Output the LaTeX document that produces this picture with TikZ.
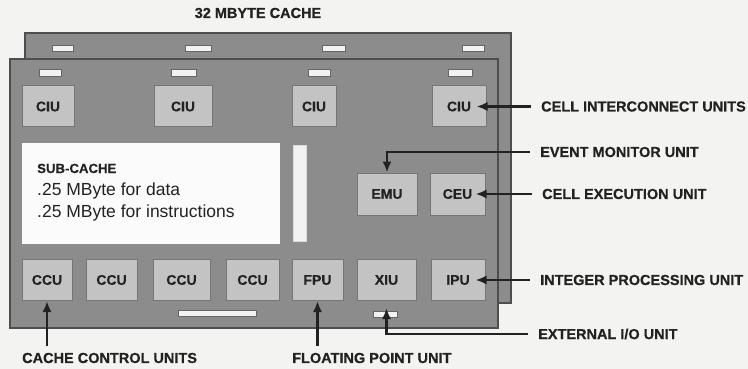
\documentclass[tikz,border=0pt]{standalone}
\usepackage{fontspec}
\setmainfont{Liberation Sans}
\newfontfamily\heavyfont{Liberation Sans}[BoldFeatures={FakeBold=0.5}]
\usetikzlibrary{arrows.meta}
\definecolor{bgpaper}{HTML}{F3F3F1}
\definecolor{boardgray}{HTML}{8C8C8C}
\definecolor{boardline}{HTML}{4E4E4E}
\definecolor{unitgray}{HTML}{C3C3C3}
\definecolor{unitline}{HTML}{767676}
\definecolor{slotwhite}{HTML}{F2F2F2}
\definecolor{slotline}{HTML}{666666}
\definecolor{ink}{HTML}{222222}

\begin{document}
\begin{tikzpicture}[x=1pt, y=-1pt,
    board/.style={draw=boardline, line width=2.5pt, fill=boardgray},
    unit/.style={draw=unitline, line width=1pt, fill=unitgray, minimum height=41pt,
      inner sep=0pt, text=ink, font=\fontsize{14}{16}\selectfont\heavyfont\bfseries},
    slot/.style={draw=slotline, line width=0.8pt, fill=slotwhite},
    lbl/.style={anchor=west, inner sep=0pt, text=ink, font=\fontsize{14.5}{17}\selectfont\heavyfont\bfseries},
    arr/.style={draw=ink, line width=2.2pt, -{Latex[length=11pt,width=9pt]}}]
  \fill[bgpaper] (0,0) rectangle (748,369);
  \useasboundingbox (0,0) rectangle (748,369);

  % the two boards
  \draw[board] (25,33) rectangle (511,303);
  \foreach \a/\b in {52/73, 185/211, 322/345, 462/484}
    \draw[slot] (\a,45) rectangle (\b,51);
  \draw[board] (10,59) rectangle (498,328);
  \foreach \a/\b in {39/61, 171/196, 308/330, 448/472}
    \draw[slot] (\a,69) rectangle (\b,76);

  % sub-cache and slots
  \fill[white!97!gray] (22,143) rectangle (280,244);
  \draw[slot, draw=slotwhite!80!gray] (293,145) rectangle (306,241);
  \draw[slot] (178,310) rectangle (256,316);
  \draw[slot] (373,311) rectangle (397,317);
  \node[anchor=base west, inner sep=0pt, text=ink, font=\fontsize{13.2}{15}\selectfont\heavyfont\bfseries] (sub1) at (37,173) {SUB-CACHE};
  \node[anchor=base west, inner sep=0pt, text=ink, font=\fontsize{17.5}{20}\selectfont] (sub2) at (37,195) {.25 MByte for data};
  \node[anchor=base west, inner sep=0pt, text=ink, font=\fontsize{17.5}{20}\selectfont] (sub3) at (37,217) {.25 MByte for instructions};

  % units
  \foreach \n/\cx/\w in {ciu1/48/52, ciu2/183/58, ciu3/314/44, ciu4/459/54}
    \node[unit, minimum width=\w pt] (\n) at (\cx,106.5) {CIU};
  \node[unit, minimum width=60pt, minimum height=42pt] (emu) at (387,194) {EMU};
  \node[unit, minimum width=55pt, minimum height=42pt] (ceu) at (457.5,194) {CEU};
  \foreach \n/\cx/\w in {ccu1/47/50, ccu2/111.5/51, ccu3/181.5/57, ccu4/252.5/53}
    \node[unit, minimum width=\w pt] (\n) at (\cx,280) {CCU};
  \node[unit, minimum width=51pt] (fpu) at (317.5,280) {FPU};
  \node[unit, minimum width=59pt] (xiu) at (386.5,280) {XIU};
  \node[unit, minimum width=54pt] (ipu) at (458,280) {IPU};

  % labels
  \node[lbl, anchor=center] (title) at (258,13) {32 MBYTE CACHE};
  \node[lbl] (lciu) at (541,106.5) {CELL INTERCONNECT UNITS};
  \node[lbl] (lemu) at (540,152) {EVENT MONITOR UNIT};
  \node[lbl] (lceu) at (542,194) {CELL EXECUTION UNIT};
  \node[lbl] (lipu) at (540,280) {INTEGER PROCESSING UNIT};
  \node[lbl] (lxiu) at (538,334) {EXTERNAL I/O UNIT};
  \node[lbl] (lfpu) at (292,358) {FLOATING POINT UNIT};
  \node[lbl] (lccu) at (22,358) {CACHE CONTROL UNITS};

  % arrows
  \draw[arr] ([xshift=-10pt]lciu.west) -- ([xshift=-10pt]lciu.west -| ciu4.east);
  \draw[arr] ([xshift=-10pt]lemu.west) -| (emu.north);
  \draw[arr] ([xshift=-10pt]lceu.west) -- ([xshift=-10pt]lceu.west -| ceu.east);
  \draw[arr] ([xshift=-10pt]lipu.west) -- ([xshift=-10pt]lipu.west -| ipu.east);
  \draw[arr] ([xshift=-10pt]lxiu.west) -| ([yshift=-7pt]xiu.south);
  \draw[arr] ([yshift=7pt]lfpu.north -| fpu.south) -- (fpu.south);
  \draw[arr] ([yshift=7pt]lccu.north -| ccu1.south) -- (ccu1.south);
\end{tikzpicture}
\end{document}
